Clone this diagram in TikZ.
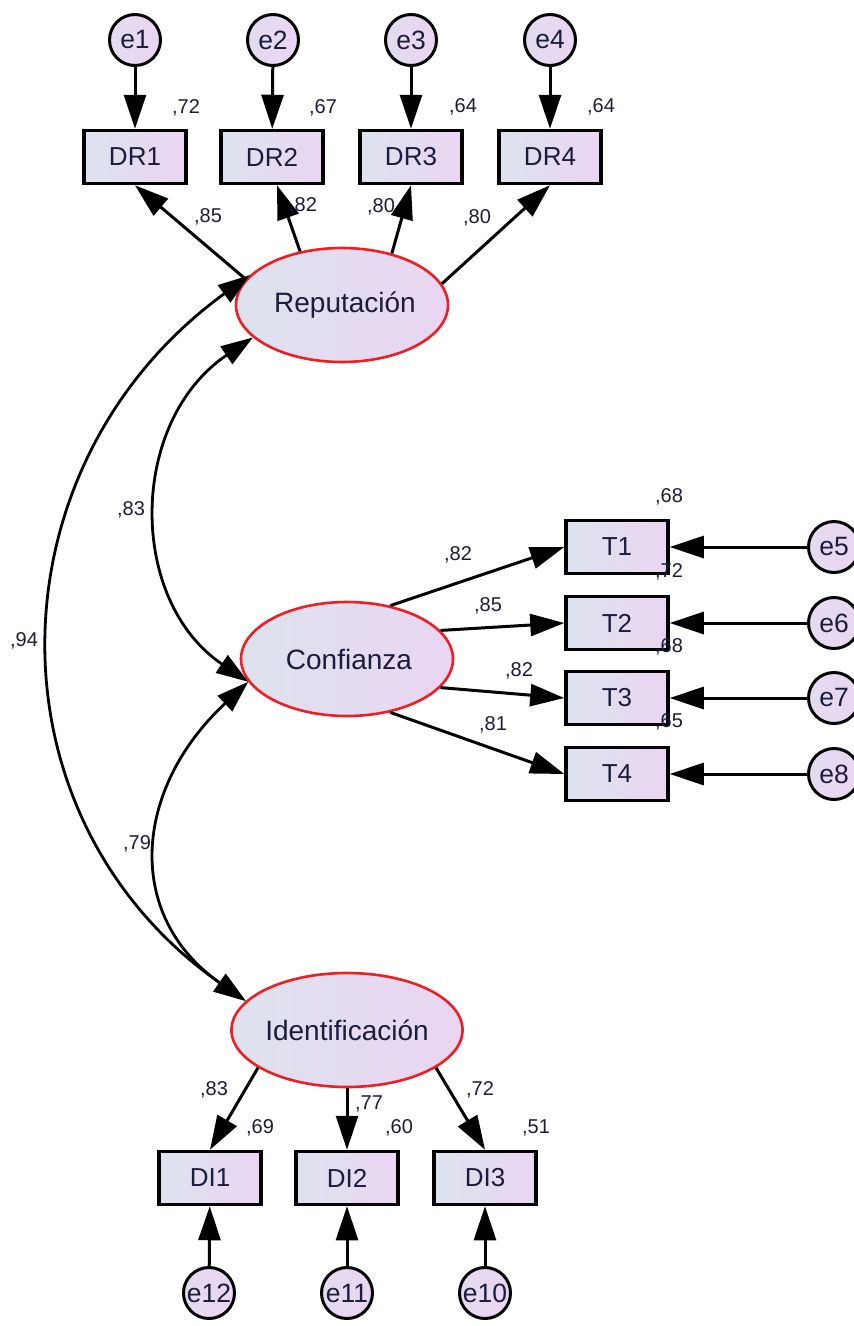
\documentclass[tikz,border=0pt]{standalone}
\usepackage{fontspec}
\setmainfont{Liberation Sans}
\usetikzlibrary{shapes.geometric,arrows.meta}
\definecolor{fillL}{RGB}{221,227,238}
\definecolor{fillR}{RGB}{234,213,242}
\definecolor{latentred}{RGB}{240,30,35}
\definecolor{inkdark}{RGB}{28,28,60}
\tikzset{
  obs/.style={rectangle, draw=black, line width=3.5pt, minimum width=102pt,
    minimum height=53pt, inner sep=0pt, left color=fillL, right color=fillR,
    font=\fontsize{26}{28}\selectfont, text=inkdark},
  lat/.style={ellipse, draw=latentred, line width=2.6pt, minimum width=212pt,
    minimum height=114pt, inner sep=0pt, left color=fillL, right color=fillR,
    font=\fontsize{28}{30}\selectfont, text=inkdark},
  err/.style={circle, draw=black, line width=3pt, minimum size=51pt,
    inner sep=0pt, left color=fillL!50!fillR, right color=fillR,
    font=\fontsize{26.5}{28}\selectfont, text=inkdark},
  est/.style={font=\fontsize{20}{22}\selectfont, text=inkdark, inner sep=0pt},
  link/.style={line width=3pt, -{Triangle[length=34pt,width=22pt]}},
  cov/.style={line width=2.8pt,
    {Triangle[length=32pt,width=21pt]}-{Triangle[length=32pt,width=21pt]}},
}
\begin{document}
\begin{tikzpicture}[x=1pt,y=1pt]
\clip (0,0) rectangle (854,-1326);
\fill[white] (0,0) rectangle (854,-1326);

% error terms of the reputation indicators
\node[err] (e1) at (135,-40) {e1};
\node[err] (e2) at (273,-40) {e2};
\node[err] (e3) at (411,-40) {e3};
\node[err] (e4) at (550,-40) {e4};

% reputation indicators
\node[obs] (dr1) at (135,-157) {DR1};
\node[obs] (dr2) at (272,-157) {DR2};
\node[obs] (dr3) at (411,-157) {DR3};
\node[obs] (dr4) at (550,-157) {DR4};

% latent constructs
\node[lat] (rep) at (342,-305) {\hspace*{6pt}Reputación};
\node[lat] (conf) at (347,-659) {\hspace*{4pt}Confianza};
\node[lat] (ide) at (347,-1030) {Identificación};

% trust indicators and their errors
\node[obs] (t1) at (617,-547) {T1};
\node[obs] (t2) at (617,-623) {T2};
\node[obs] (t3) at (617,-698) {T3};
\node[obs] (t4) at (617,-774) {T4};
\node[err] (e5) at (834,-547) {e5};
\node[err] (e6) at (834,-623) {e6};
\node[err] (e7) at (834,-698) {e7};
\node[err] (e8) at (834,-774) {e8};

% identification indicators and their errors
\node[obs] (di1) at (210,-1178) {DI1};
\node[obs] (di2) at (347,-1178) {DI2};
\node[obs] (di3) at (485,-1178) {DI3};
\node[err] (e12) at (209,-1293) {e12};
\node[err] (e11) at (347,-1293) {e11};
\node[err] (e10) at (485,-1293) {e10};

% error paths
\draw[link] (e1) -- (dr1);
\draw[link] (e2) -- (dr2);
\draw[link] (e3) -- (dr3);
\draw[link] (e4) -- (dr4);
\draw[link] (e5) -- (t1);
\draw[link] (e6) -- (t2);
\draw[link] (e7) -- (t3);
\draw[link] (e8) -- (t4);
\draw[link] (e12) -- (di1);
\draw[link] (e11) -- (di2);
\draw[link] (e10) -- (di3);

% factor loadings
\draw[link] (rep.165) -- (dr1.south);
\draw[link] (rep.128) -- ([xshift=5pt]dr2.south);
\draw[link] (rep.46) -- (dr3.south);
\draw[link] (rep.12) -- (dr4.south);
\draw[link] (conf.51) -- (t1.west);
\draw[link] (conf.17) -- (t2.west);
\draw[link] (conf.-17) -- (t3.west);
\draw[link] (conf.-51) -- (t4.west);
\draw[link] (ide.203) -- (di1.north);
\draw[link] (ide.south) -- (di2.north);
\draw[link] (ide.-23) -- (di3.north);

% correlations between constructs
\draw[cov] (rep.200) to[out=214, in=146, out distance=150pt, in distance=146pt] (conf.193);
\draw[cov] (rep.162) to[out=216, in=145, out distance=322pt, in distance=322pt] (ide.164);
\draw[cov] (conf.193) to[out=223, in=145, out distance=158pt, in distance=148pt] (ide.164);

% squared multiple correlations
\node[est] (r1) at (186,-108) {,72};
\node[est] (r2) at (323,-108) {,67};
\node[est] (r3) at (463,-107) {,64};
\node[est] (r4) at (601,-107) {,64};
\node[est] (r5) at (669,-497) {,68};
\node[est] (r6) at (669,-572) {,72};
\node[est] (r7) at (669,-647) {,68};
\node[est] (r8) at (669,-722) {,65};
\node[est] (r12) at (260,-1128) {,69};
\node[est] (r11) at (399,-1128) {,60};
\node[est] (r10) at (536,-1128) {,51};

% standardized loadings
\node[est] (w1) at (208,-217) {,85};
\node[est] (w2) at (303,-206) {,82};
\node[est] (w3) at (381,-207) {,80};
\node[est] (w4) at (477,-218) {,80};
\node[est] (w5) at (458,-555) {,82};
\node[est] (w6) at (488,-606) {,85};
\node[est] (w7) at (519,-671) {,82};
\node[est] (w8) at (493,-725) {,81};
\node[est] (w12) at (214,-1090) {,83};
\node[est] (w11) at (369,-1104) {,77};
\node[est] (w10) at (480,-1090) {,72};

% correlations
\node[est] (c1) at (131,-510) {,83};
\node[est] (c2) at (24,-641) {,94};
\node[est] (c3) at (137,-844) {,79};
\end{tikzpicture}
\end{document}
